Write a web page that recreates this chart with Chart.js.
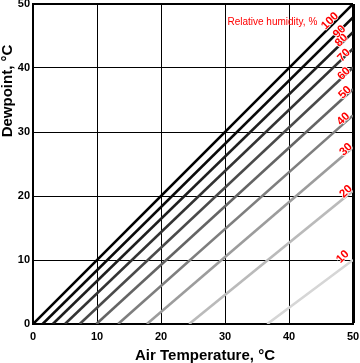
<!DOCTYPE html>
<html><head><meta charset="utf-8">
<script src="https://cdn.jsdelivr.net/npm/chart.js@4/dist/chart.umd.min.js"></script>
<style>html,body{margin:0;padding:0;background:#fff;overflow:hidden;} canvas{display:block;}</style>
</head><body>
<canvas id="c" width="360" height="363"></canvas>
<script>
// Relative humidity levels (%), one line each
const rhLevels = [10, 20, 30, 40, 50, 60, 70, 80, 90, 100];
// Air temperature (°C) where each RH line meets dewpoint 0 °C
const airTempAtZeroDew = [36.6, 24.4, 17.8, 13.3, 9.9, 7.3, 5.0, 3.1, 1.5, 0];
// Dewpoint (°C) of each RH line at air temperature 50 °C
const dewpointAt50 = [10.0, 20.8, 27.6, 32.6, 36.7, 40.1, 43.0, 45.6, 47.9, 50];
const xTicks = [0, 10, 20, 30, 40, 50];
const yTicks = [0, 10, 20, 30, 40, 50];
const xTitle = 'Air Temperature, °C';
const yTitle = 'Dewpoint, °C';
const legendTitle = 'Relative humidity, %';

const lineColors = ['#d6d6d6', '#bababa', '#9c9c9c', '#7e7e7e', '#646464', '#4a4a4a', '#333333', '#1e1e1e', '#0a0a0a', '#000000'];
const FONT = '"Liberation Sans", Arial, Helvetica, sans-serif';

const datasets = rhLevels.map((rh, i) => ({
  label: rh + '%',
  data: [{x: airTempAtZeroDew[i], y: 0}, {x: 50, y: dewpointAt50[i]}],
  showLine: true,
  borderColor: lineColors[i],
  borderWidth: 2.6,
  pointRadius: 0,
  fill: false
}));

// label placement along each line: [air temp, lift in px]
const labelPlace = [[48.4, 11], [48.9, 5], [48.9, 4], [48.5, 5], [48.75, 4], [48.6, 2], [48.6, 2], [48.2, 3], [47.9, -1], [46.4, 6]];

const decor = {
  id: 'decor',
  afterDatasetsDraw(chart) {
    const {ctx, scales: {x, y}} = chart;
    ctx.save();
    ctx.font = 'bold 11.5px ' + FONT;
    ctx.fillStyle = '#ff0000';
    ctx.textAlign = 'center';
    ctx.textBaseline = 'middle';
    rhLevels.forEach((rh, i) => {
      const [t, up] = labelPlace[i];
      const x0 = airTempAtZeroDew[i], y1 = dewpointAt50[i];
      const td = y1 * (t - x0) / (50 - x0);
      const px = x.getPixelForValue(t), py = y.getPixelForValue(td) - up;
      ctx.save();
      ctx.translate(px, py);
      ctx.rotate(-Math.PI / 4);
      ctx.lineWidth = 1.5;
      ctx.strokeStyle = '#ffffff';
      ctx.strokeText(String(rh), 0, 0);
      ctx.fillText(String(rh), 0, 0);
      ctx.restore();
    });
    ctx.font = '10px ' + FONT;
    ctx.fillText(legendTitle, x.getPixelForValue(37.4), y.getPixelForValue(47.2));
    ctx.restore();
  },
  afterDraw(chart) {
    const {ctx} = chart;
    ctx.save();
    ctx.fillStyle = '#000';
    ctx.font = 'bold 15px ' + FONT;
    ctx.textAlign = 'center';
    ctx.textBaseline = 'alphabetic';
    ctx.fillText(xTitle, 205, 360);
    ctx.translate(12, 91);
    ctx.rotate(-Math.PI / 2);
    ctx.fillText(yTitle, 0, 0);
    ctx.restore();
  }
};

new Chart(document.getElementById('c'), {
  type: 'scatter',
  data: {datasets},
  options: {
    responsive: false,
    animation: false,
    devicePixelRatio: 1,
    layout: {padding: {top: 4, right: 7, left: 0, bottom: 0}},
    plugins: {legend: {display: false}, tooltip: {enabled: false}},
    scales: {
      x: {
        type: 'linear', min: 0, max: 50,
        afterBuildTicks: s => { s.ticks = xTicks.map(v => ({value: v})); },
        afterFit: s => { s.height = 39; s.paddingLeft = 0; s.paddingRight = 0; },
        ticks: {color: '#000', font: {family: FONT, size: 11, weight: 'bold'}, padding: 6, maxRotation: 0, autoSkip: false},
        grid: {color: '#000', lineWidth: c => (c.tick && c.tick.value === 50 ? 3 : 1), drawTicks: false},
        border: {color: '#000', width: 2}
      },
      y: {
        type: 'linear', min: 0, max: 50,
        afterBuildTicks: s => { s.ticks = yTicks.map(v => ({value: v})); },
        afterFit: s => { s.width = 33; s.paddingTop = 0; s.paddingBottom = 0; },
        ticks: {color: '#000', font: {family: FONT, size: 11, weight: 'bold'}, padding: 3, autoSkip: false},
        grid: {color: '#000', lineWidth: c => (c.tick && c.tick.value === 50 ? 2 : 1), drawTicks: false},
        border: {color: '#000', width: 2}
      }
    }
  },
  plugins: [decor]
});
</script>
</body></html>
